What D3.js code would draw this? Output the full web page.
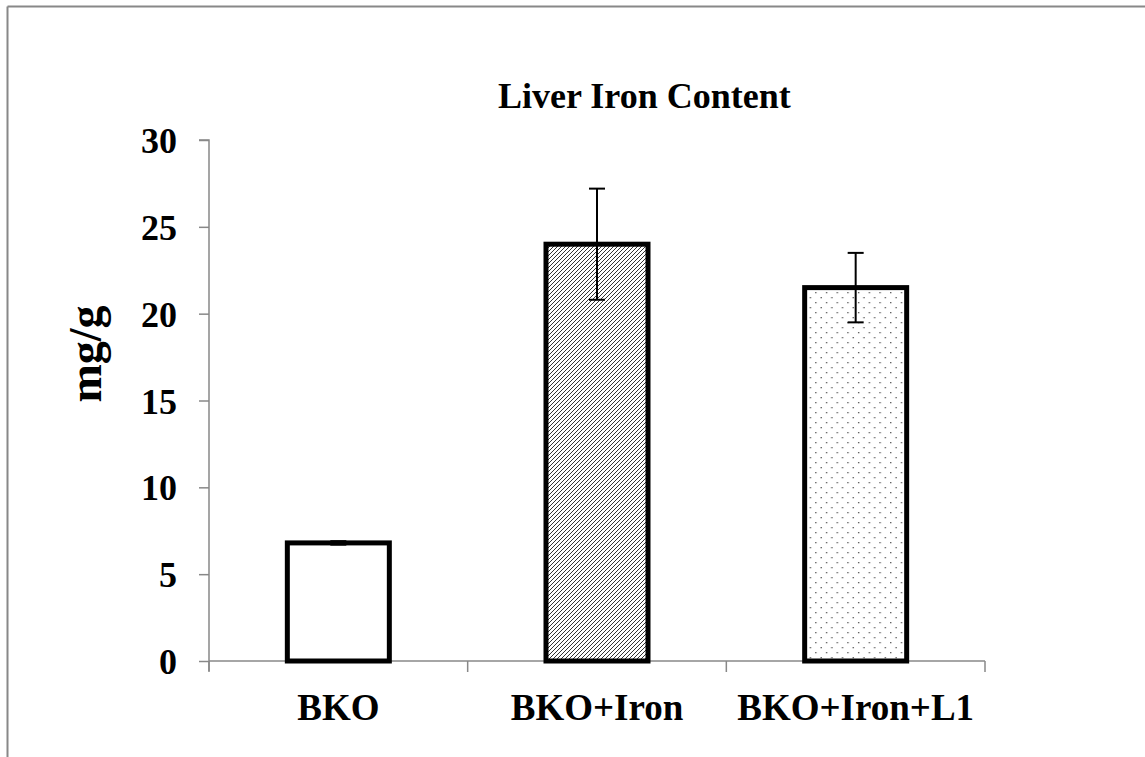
<!DOCTYPE html>
<html><head><meta charset="utf-8">
<script src="https://cdn.jsdelivr.net/npm/d3@7"></script>
<style>
html,body{margin:0;padding:0;background:#fff;}
svg{display:block;font-family:"Liberation Serif","Times New Roman",serif;font-weight:bold;}
</style></head>
<body>
<script>
const categories = ["BKO", "BKO+Iron", "BKO+Iron+L1"];
const values = [6.8, 24.0, 21.5];
const errors = [0.1, 3.2, 2.0];
const fills = ["none", "url(#hatch)", "url(#dots)"];
const yTicks = [0, 5, 10, 15, 20, 25, 30];
const title = "Liver Iron Content";
const yLabel = "mg/g";

const W = 1145, H = 757;
const svg = d3.select("body").append("svg").attr("width", W).attr("height", H);
const defs = svg.append("defs");
const hatch = defs.append("pattern").attr("id", "hatch").attr("patternUnits", "userSpaceOnUse")
  .attr("width", 4).attr("height", 4);
hatch.append("rect").attr("width", 4).attr("height", 4).attr("fill", "#fff");
hatch.append("path").attr("d", "M-1,1 l2,-2 M0,4 l4,-4 M3,5 l2,-2").attr("stroke", "#333").attr("stroke-width", 1);
const dots = defs.append("pattern").attr("id", "dots").attr("patternUnits", "userSpaceOnUse")
  .attr("width", 10.7).attr("height", 10);
dots.append("rect").attr("width", 10.7).attr("height", 10).attr("fill", "#fff");
dots.append("rect").attr("x", 2).attr("y", 2).attr("width", 1.3).attr("height", 1.3).attr("fill", "#555");
dots.append("rect").attr("x", 7.35).attr("y", 7).attr("width", 1.3).attr("height", 1.3).attr("fill", "#555");

// frame lines
svg.append("line").attr("x1", 7.5).attr("x2", W).attr("y1", 6.5).attr("y2", 6.5).attr("stroke", "#888").attr("stroke-width", 2);
svg.append("line").attr("x1", 7.5).attr("x2", 7.5).attr("y1", 6.5).attr("y2", H).attr("stroke", "#888").attr("stroke-width", 2);

const pL = 209, pR = 985, pT = 140, pB = 661;
const x = d3.scaleBand().domain(categories).range([pL, pR]).padding(0);
const y = d3.scaleLinear().domain([0, 30]).range([pB, pT]);

// y axis
const ya = svg.append("g").attr("transform", `translate(${pL},0)`)
  .call(d3.axisLeft(y).tickValues(yTicks).tickSize(10).tickPadding(22));
ya.select(".domain").attr("stroke", "#888").attr("stroke-width", 1.5).attr("d", `M-10,${pT}H0V${pB + 10}`);
ya.selectAll(".tick line").attr("stroke", "#888").attr("stroke-width", 1.5);
ya.selectAll(".tick text").attr("font-size", 36).attr("font-family", "Liberation Serif").attr("font-weight", "bold").attr("fill", "#000").attr("dy", "0.35em");

// x axis
const xa = svg.append("g").attr("transform", `translate(0,${pB})`)
  .call(d3.axisBottom(x).tickSize(0).tickPadding(33));
xa.select(".domain").attr("stroke", "#888").attr("stroke-width", 1.5).attr("d", `M${pL},0H${pR}`);
xa.selectAll(".tick text").attr("font-size", 37).attr("font-family", "Liberation Serif").attr("font-weight", "bold").attr("fill", "#000").attr("dy", "0.71em");
xa.selectAll(".bnd").data([pL, ...categories.map(c => x(c) + x.bandwidth())])
  .join("line").attr("class", "bnd")
  .attr("x1", d => d).attr("x2", d => d).attr("y1", 0).attr("y2", 11)
  .attr("stroke", "#888").attr("stroke-width", 1.5);

// bars
const bw = 102;
svg.append("g").selectAll("rect").data(categories).join("rect")
  .attr("x", d => x(d) + x.bandwidth() / 2 - bw / 2)
  .attr("y", (d, i) => y(values[i]))
  .attr("width", bw)
  .attr("height", (d, i) => y(0) - y(values[i]))
  .attr("fill", (d, i) => fills[i] === "none" ? "#fff" : fills[i])
  .attr("stroke", "#000").attr("stroke-width", 5);

// error bars
const eb = svg.append("g").attr("stroke", "#000").attr("stroke-width", 2);
categories.forEach((c, i) => {
  const cx = x(c) + x.bandwidth() / 2;
  const y1 = y(values[i] + errors[i]), y2 = y(values[i] - errors[i]);
  eb.append("line").attr("x1", cx).attr("x2", cx).attr("y1", y1).attr("y2", y2);
  eb.append("line").attr("x1", cx - 8).attr("x2", cx + 8).attr("y1", y1).attr("y2", y1);
  eb.append("line").attr("x1", cx - 8).attr("x2", cx + 8).attr("y1", y2).attr("y2", y2);
});

// title
svg.append("text").attr("x", 498).attr("y", 108).attr("text-anchor", "start")
  .attr("font-size", 36).text(title);
// y label
svg.append("text").attr("transform", `translate(101,354) rotate(-90)`).attr("text-anchor", "middle")
  .attr("font-size", 46).text(yLabel);
</script>
</body></html>
